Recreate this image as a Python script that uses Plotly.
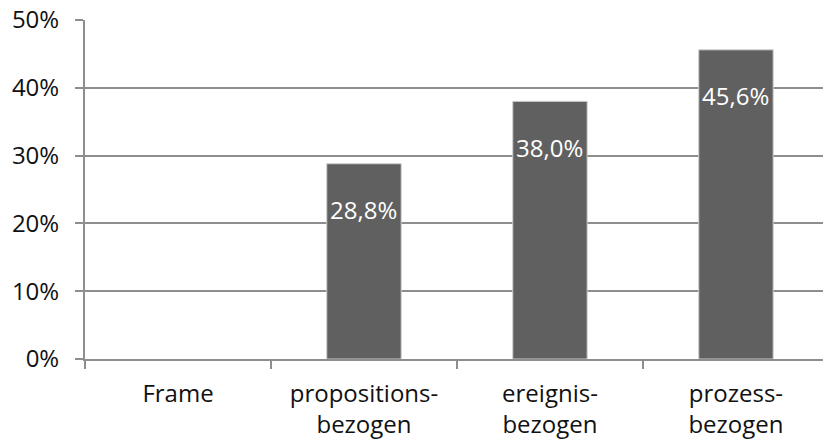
import plotly.graph_objects as go

categories = ["Frame", "propositions-<br>bezogen", "ereignis-<br>bezogen", "prozess-<br>bezogen"]
shares = [0.0, 28.8, 38.0, 45.6]
value_labels = ["", "28,8%", "38,0%", "45,6%"]
y_ticks = [0, 10, 20, 30, 40, 50]
y_tick_labels = ["0%", "10%", "20%", "30%", "40%", "50%"]

FONT = "Open Sans"
GRID = "#8e8e8e"

# no outline on empty bars
outline_widths = [1 if v > 0 else 0 for v in shares]

fig = go.Figure()
fig.add_trace(go.Bar(
    x=categories,
    y=shares,
    width=0.4,
    marker=dict(color="#606060", line=dict(color="#cfcfcf", width=outline_widths)),
    hoverinfo="skip",
))

# value labels inside the bars, a little below the top
for cat, val, lab in zip(categories, shares, value_labels):
    if lab:
        fig.add_annotation(
            x=cat, y=val, text=lab, showarrow=False,
            yanchor="middle", yshift=-46,
            font=dict(family=FONT, size=24, color="white"),
        )

fig.update_layout(
    width=823, height=439,
    margin=dict(l=85, r=0, t=20, b=80),
    paper_bgcolor="white", plot_bgcolor="white",
    showlegend=False,
    font=dict(family=FONT, size=24, color="#111111"),
    bargap=0.6,
)
fig.update_xaxes(
    type="category",
    range=[-0.5, 3.468],
    showgrid=False,
    showline=True, linecolor=GRID, linewidth=2,
    ticks="outside", tickson="boundaries", ticklen=8, tickcolor=GRID, tickwidth=1.5,
    tickfont=dict(family=FONT, size=24, color="#111111"),
    ticklabelstandoff=12,
)
fig.update_yaxes(
    range=[0, 50],
    tickvals=y_ticks, ticktext=y_tick_labels,
    showgrid=True, gridcolor=GRID, gridwidth=1.5,
    showline=True, linecolor=GRID, linewidth=2,
    ticks="outside", ticklen=8, tickcolor=GRID, tickwidth=1.5,
    tickfont=dict(family=FONT, size=24, color="#111111"),
    ticklabelstandoff=11,
    zeroline=False,
)

fig.write_html("out.html")
